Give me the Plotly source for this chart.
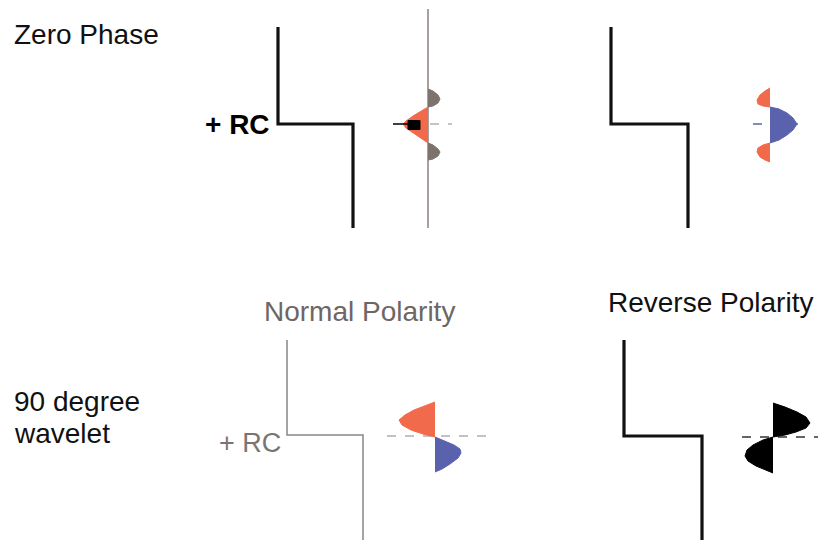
import plotly.graph_objects as go

W, H = 818, 542
FONT = "Liberation Sans, Arial, Helvetica, sans-serif"

# ---- step (reflection coefficient) profiles: vertices in page pixels ----
step_tl_x = [278, 278, 353, 353]
step_tl_y = [27, 124, 124, 228]
step_tr_x = [611, 611, 688, 688]
step_tr_y = [27, 124, 124, 228]
step_bl_x = [287, 287, 363, 363]
step_bl_y = [340, 435, 435, 540]
step_br_x = [624, 624, 702, 702]
step_br_y = [340, 436, 436, 540]

# ---- wavelet lobes (outline points) ----
# Zero phase, normal polarity
tl_main_x = [428, 421, 413, 406, 403, 406, 413, 421, 428]
tl_main_y = [107, 111, 116, 121, 124, 128, 133, 138, 143]
tl_side1_x = [428, 433, 438, 440, 438, 433, 428]
tl_side1_y = [89, 91, 95, 99, 103, 106, 107]
tl_side2_x = [428, 433, 438, 440, 438, 433, 428]
tl_side2_y = [143, 145, 149, 152, 156, 159, 160]
tl_axis_x = [428, 428]
tl_axis_y = [9, 228]
tl_box_x = [408, 420, 420, 408, 408]
tl_box_y = [120.5, 120.5, 129.5, 129.5, 120.5]
tl_tick_x = [393, 408]
tl_tick_y = [124, 124]
tl_dash_x = [430, 452]
tl_dash_y = [124, 124]

# Zero phase, reverse polarity
tr_main_x = [770, 779, 787, 793, 797, 793, 787, 779, 770]
tr_main_y = [107, 109, 113, 118, 124, 130, 135, 140, 143]
tr_side1_x = [770, 765, 760, 757, 758, 763, 770]
tr_side1_y = [88, 91, 95, 100, 104, 106, 107]
tr_side2_x = [770, 763, 758, 757, 760, 765, 770]
tr_side2_y = [143, 145, 148, 152, 157, 160, 162]
tr_dash_x = [753, 807]
tr_dash_y = [124, 124]

# 90 degree, normal polarity
bl_up_x = [435, 425, 414, 405, 399, 402, 411, 423, 435]
bl_up_y = [402, 406, 410, 415, 420, 425, 430, 434, 437]
bl_dn_x = [435, 445, 454, 460, 461, 458, 450, 442, 435]
bl_dn_y = [437, 441, 445, 449, 453, 458, 464, 469, 472]
bl_dash_x = [387, 490]
bl_dash_y = [436, 436]

# 90 degree, reverse polarity
br_up_x = [773, 785, 797, 806, 810, 806, 796, 785, 773]
br_up_y = [403, 407, 412, 417, 423, 428, 432, 435, 437]
br_dn_x = [773, 763, 753, 747, 745, 748, 756, 765, 773]
br_dn_y = [437, 440, 445, 450, 456, 461, 466, 470, 473]
br_dash_x = [742, 818]
br_dash_y = [437, 437]

RED = "#f26a4c"
BLUE = "#5a62ae"
GRAYLOBE = "#7e726d"

fig = go.Figure()


def line(x, y, color, width, dash="solid"):
    fig.add_trace(go.Scatter(x=x, y=y, mode="lines", hoverinfo="skip",
                             line=dict(color=color, width=width, dash=dash)))


def lobe(x, y, color):
    fig.add_trace(go.Scatter(x=x, y=y, mode="lines", fill="toself",
                             fillcolor=color, hoverinfo="skip",
                             line=dict(color=color, width=1)))


# top-left
line(step_tl_x, step_tl_y, "#111111", 3.2)
line(tl_axis_x, tl_axis_y, "#8c817d", 1.5)
line(tl_dash_x, tl_dash_y, "#b5b0ae", 1.5, "dash")
lobe(tl_main_x, tl_main_y, RED)
lobe(tl_side1_x, tl_side1_y, GRAYLOBE)
lobe(tl_side2_x, tl_side2_y, GRAYLOBE)
lobe(tl_box_x, tl_box_y, "#000000")
line(tl_tick_x, tl_tick_y, "#000000", 1.5)

# top-right
line(step_tr_x, step_tr_y, "#111111", 3.2)
line(tr_dash_x, tr_dash_y, BLUE, 1.5, "dash")
lobe(tr_main_x, tr_main_y, BLUE)
lobe(tr_side1_x, tr_side1_y, RED)
lobe(tr_side2_x, tr_side2_y, RED)

# bottom-left
line(step_bl_x, step_bl_y, "#8a8584", 1.5)
line(bl_dash_x, bl_dash_y, "#8a8584", 1.2, "dash")
lobe(bl_up_x, bl_up_y, RED)
lobe(bl_dn_x, bl_dn_y, BLUE)

# bottom-right
line(step_br_x, step_br_y, "#111111", 3.2)
line(br_dash_x, br_dash_y, "#333333", 1.5, "dash")
lobe(br_up_x, br_up_y, "#000000")
lobe(br_dn_x, br_dn_y, "#000000")

labels = [
    dict(text="Zero Phase", x=12, y=34, xanchor="left", size=28, color="#111111", bold=False),
    dict(text="90 degree", x=12, y=401, xanchor="left", size=28, color="#111111", bold=False),
    dict(text="wavelet", x=12, y=433, xanchor="left", size=28, color="#111111", bold=False),
    dict(text="+ RC", x=272, y=124, xanchor="right", size=28, color="#000000", bold=True),
    dict(text="+ RC", x=283, y=443, xanchor="right", size=27, color="#7a7574", bold=False),
    dict(text="Normal Polarity", x=359, y=311, xanchor="center", size=28, color="#6e6663", bold=False),
    dict(text="Reverse Polarity", x=710, y=302, xanchor="center", size=28, color="#111111", bold=False),
]
for lb in labels:
    t = "<b>%s</b>" % lb["text"] if lb["bold"] else lb["text"]
    fig.add_annotation(x=lb["x"], y=lb["y"], text=t, showarrow=False,
                       xanchor=lb["xanchor"], yanchor="middle",
                       font=dict(family=FONT, size=lb["size"], color=lb["color"]))

fig.update_layout(
    width=W, height=H, autosize=False,
    margin=dict(l=0, r=0, t=0, b=0, pad=0),
    paper_bgcolor="white", plot_bgcolor="white",
    showlegend=False,
    xaxis=dict(range=[0, W], visible=False, fixedrange=True),
    yaxis=dict(range=[H, 0], visible=False, fixedrange=True),
)

fig.write_html("out.html", config={"displayModeBar": False})
